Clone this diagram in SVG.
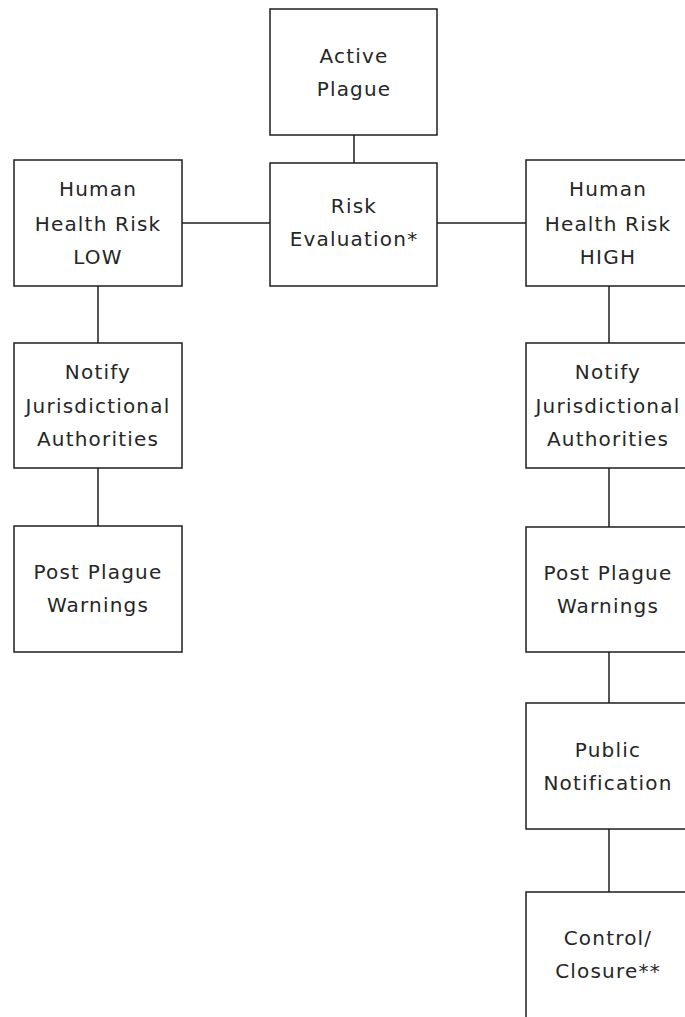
<svg xmlns="http://www.w3.org/2000/svg" width="685" height="1017" viewBox="0 0 685 1017">
<style>
.box{fill:#ffffff;stroke:#1e1e1e;stroke-width:1.5}
.ln{stroke:#1e1e1e;stroke-width:1.5;fill:none}
.t{font-family:"DejaVu Sans",sans-serif;font-size:20px;letter-spacing:1.2px;fill:#262626;text-anchor:middle}
</style>
<rect width="685" height="1017" fill="#ffffff"/>
<g id="connectors">
<line class="ln" x1="354" y1="135" x2="354" y2="163"/>
<line class="ln" x1="182" y1="223" x2="270" y2="223"/>
<line class="ln" x1="437" y1="223" x2="526" y2="223"/>
<line class="ln" x1="98" y1="286" x2="98" y2="343"/>
<line class="ln" x1="98" y1="468" x2="98" y2="526"/>
<line class="ln" x1="609" y1="286" x2="609" y2="343"/>
<line class="ln" x1="609" y1="468" x2="609" y2="527"/>
<line class="ln" x1="609" y1="652" x2="609" y2="703"/>
<line class="ln" x1="609" y1="829" x2="609" y2="892"/>
</g>
<g id="active-plague">
<rect class="box" x="270" y="9" width="167" height="126"/>
<text class="t" x="354" y="63">Active</text>
<text class="t" x="354" y="96">Plague</text>
</g>
<g id="risk-evaluation">
<rect class="box" x="270" y="163" width="167" height="123"/>
<text class="t" x="354" y="213">Risk</text>
<text class="t" x="354" y="246">Evaluation*</text>
</g>
<g id="risk-low">
<rect class="box" x="14" y="160" width="168" height="126"/>
<text class="t" x="98" y="196">Human</text>
<text class="t" x="98" y="231">Health Risk</text>
<text class="t" x="98" y="264">LOW</text>
</g>
<g id="notify-low">
<rect class="box" x="14" y="343" width="168" height="125"/>
<text class="t" x="98" y="379">Notify</text>
<text class="t" x="98" y="413">Jurisdictional</text>
<text class="t" x="98" y="446">Authorities</text>
</g>
<g id="post-low">
<rect class="box" x="14" y="526" width="168" height="126"/>
<text class="t" x="98" y="579">Post Plague</text>
<text class="t" x="98" y="612">Warnings</text>
</g>
<g id="risk-high">
<rect class="box" x="526" y="160" width="166" height="126"/>
<text class="t" x="608" y="196">Human</text>
<text class="t" x="608" y="231">Health Risk</text>
<text class="t" x="608" y="264">HIGH</text>
</g>
<g id="notify-high">
<rect class="box" x="526" y="343" width="166" height="125"/>
<text class="t" x="608" y="379">Notify</text>
<text class="t" x="608" y="413">Jurisdictional</text>
<text class="t" x="608" y="446">Authorities</text>
</g>
<g id="post-high">
<rect class="box" x="526" y="527" width="166" height="125"/>
<text class="t" x="608" y="580">Post Plague</text>
<text class="t" x="608" y="613">Warnings</text>
</g>
<g id="public-notification">
<rect class="box" x="526" y="703" width="166" height="126"/>
<text class="t" x="608" y="757">Public</text>
<text class="t" x="608" y="790">Notification</text>
</g>
<g id="control-closure">
<rect class="box" x="526" y="892" width="166" height="127"/>
<text class="t" x="608" y="945">Control/</text>
<text class="t" x="608" y="978">Closure**</text>
</g>
</svg>
